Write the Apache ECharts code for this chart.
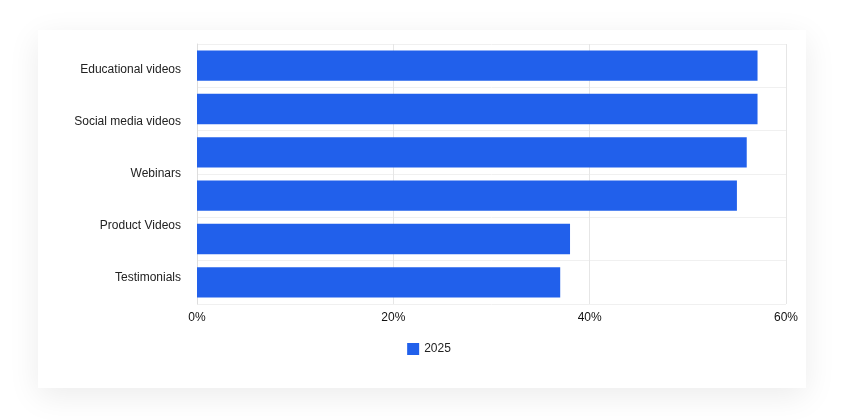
<!DOCTYPE html>
<html><head><meta charset="utf-8">
<script src="https://cdn.jsdelivr.net/npm/echarts@6/dist/echarts.min.js"></script>
<style>
body{margin:0;background:#fff;font-family:Poppins,Inter,sans-serif}
#card{position:absolute;left:38px;top:30px;width:768px;height:358px;background:#fff;box-shadow:0 8px 30px rgba(0,0,0,0.08)}
#chart{position:absolute;left:0;top:0;width:858px;height:420px}
</style></head><body>
<div id="card"></div>
<div id="chart"></div>
<script>
var categories = ['Educational videos','Social media videos','Webinars','Explainer videos','Product Videos','Testimonials'];
var tickLabels = ['Educational videos','Social media videos','Webinars','Product Videos','Testimonials'];
var values2025 = [57.1, 57.1, 56, 55, 38, 37];

var chart = echarts.init(document.getElementById('chart'));
chart.setOption({
  animation: false,
  grid: { left: 197, right: 72, top: 44, bottom: 116 },
  legend: {
    bottom: 60, left: 'center', data: ['2025'], icon: 'rect',
    itemWidth: 12, itemHeight: 12,
    textStyle: { color: '#222', fontSize: 12 }
  },
  xAxis: {
    type: 'value', min: 0, max: 60, interval: 20,
    axisLabel: { formatter: '{value}%', color: '#111', fontSize: 12 },
    splitLine: { lineStyle: { color: '#e6e6e6' } },
    axisLine: { show: false }, axisTick: { show: false }
  },
  yAxis: [{
    type: 'category', inverse: true, data: categories,
    axisLabel: { show: false }, axisTick: { show: false },
    axisLine: { lineStyle: { color: '#ddd' } },
    splitLine: { show: true, lineStyle: { color: '#f0f0f0' } }
  }, {
    type: 'category', inverse: true, data: tickLabels, position: 'left',
    axisLabel: { color: '#222', fontSize: 12, margin: 16 },
    axisLine: { show: false }, axisTick: { show: false }
  }],
  series: [{
    name: '2025', type: 'bar', data: values2025, yAxisIndex: 0,
    barCategoryGap: '30%', itemStyle: { color: '#2160eb' }
  }]
});
</script>
</body></html>
